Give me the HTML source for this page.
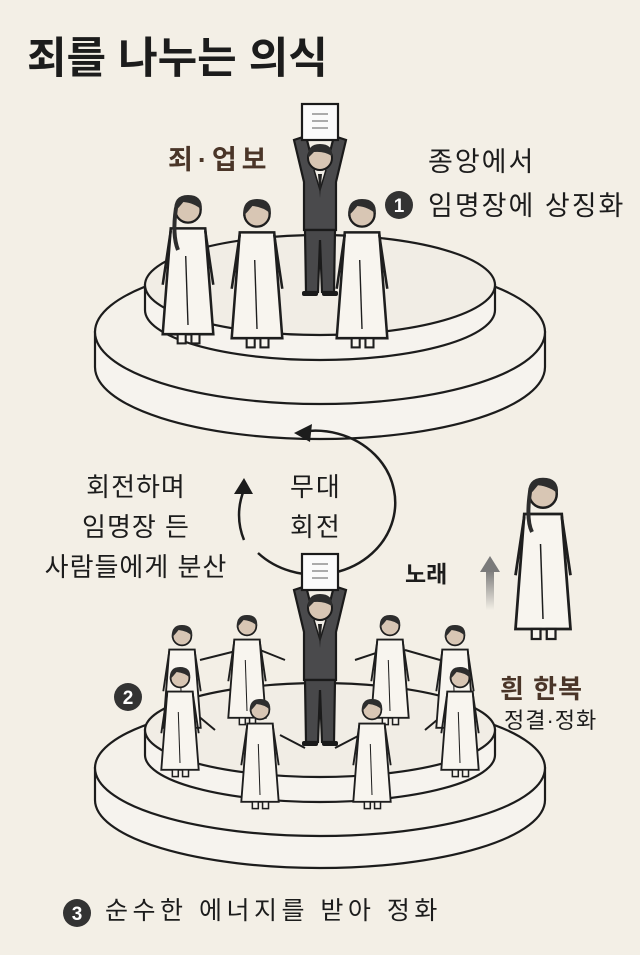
<!DOCTYPE html>
<html><head><meta charset="utf-8"><style>
html,body{margin:0;padding:0;background:#f3efe6;}
body{width:640px;height:955px;position:relative;overflow:hidden;font-family:"Liberation Sans","Noto Sans CJK KR",sans-serif;color:#1c1c1c;}
.t{position:absolute;white-space:nowrap;line-height:1.2;}
svg{position:absolute;left:0;top:0;}
</style></head><body>
<svg width="640" height="955" viewBox="0 0 640 955">
<defs>
<g id="woman">
  <path d="M-15,16 L-22,108 L22,108 L15,16 Z" fill="#f8f5ef" stroke="#1e1e1e" stroke-width="2.2"/>
  <path d="M-15,18 L-22,65 M15,18 L22,65" stroke="#1e1e1e" stroke-width="2.2" fill="none"/>
  <path d="M-2,40 L0,100" stroke="#1e1e1e" stroke-width="1.2"/>
  <circle cx="0" cy="0" r="11" fill="#d8c6b4" stroke="#1e1e1e" stroke-width="2"/>
  <path d="M-12,2 Q-13,-13 0,-13 Q13,-13 12,0 Q6,-6 -4,-7 Q-8,-2 -12,2 Z" fill="#2d2d2d"/>
  <rect x="-9" y="108" width="7" height="8" fill="#f8f5ef" stroke="#1e1e1e" stroke-width="1.8"/>
  <rect x="3" y="108" width="7" height="8" fill="#f8f5ef" stroke="#1e1e1e" stroke-width="1.8"/>
</g>
<g id="man">
  <path d="M-16,2 L-26,-40 L-14,-44 L-6,-12 L6,-12 L14,-44 L26,-40 L16,2 L16,50 L-16,50 Z" fill="#4a4a4c" stroke="#1a1a1a" stroke-width="2.2"/>
  <path d="M-15,50 L-14,112 L-2,112 L0,60 L2,112 L14,112 L15,50 Z" fill="#48484a" stroke="#1a1a1a" stroke-width="2.2"/>
  <path d="M-6,-10 L0,10 L6,-10" fill="#f0ede6" stroke="#1a1a1a" stroke-width="1.5"/>
  <path d="M-2,-6 L0,18 L2,-6 Z" fill="#222"/>
  <circle cx="0" cy="-22" r="12" fill="#d8c6b4" stroke="#1a1a1a" stroke-width="2"/>
  <path d="M-12,-22 Q-13,-36 0,-36 Q13,-36 12,-24 Q4,-29 -6,-28 Z" fill="#2d2d2d"/>
  <rect x="-18" y="-76" width="36" height="36" fill="#fafafa" stroke="#1a1a1a" stroke-width="2.2"/>
  <path d="M-8,-66 H8 M-8,-59 H8 M-8,-52 H8" stroke="#aaa" stroke-width="2"/>
  <rect x="-18" y="111" width="16" height="5" rx="2" fill="#1a1a1a"/>
  <rect x="2" y="111" width="16" height="5" rx="2" fill="#1a1a1a"/>
</g>
</defs>

<path d="M95,332 L95,367 A225,72 0 0 0 545,367 L545,332 Z" fill="#f6f3ee" stroke="#1c1c1c" stroke-width="2.2"/>
<ellipse cx="320" cy="332" rx="225" ry="72" fill="#f4f1ea" stroke="#1c1c1c" stroke-width="2.2"/>
<path d="M145,285 L145,310 A175,50 0 0 0 495,310 L495,285 Z" fill="#f6f3ee" stroke="#1c1c1c" stroke-width="2.2"/>
<ellipse cx="320" cy="285" rx="175" ry="50" fill="#f1ede5" stroke="#1c1c1c" stroke-width="2.2"/>

<g transform="translate(188,210) scale(1.15)"><use href="#woman"/></g>
<path d="M176,208 Q172,235 178,250" stroke="#2d2d2d" stroke-width="4" fill="none"/>
<g transform="translate(257,214) scale(1.15)"><use href="#woman"/></g>
<use href="#man" x="320" y="180"/>
<g transform="translate(362,214) scale(1.15)"><use href="#woman"/></g>

<circle cx="399" cy="205" r="14" fill="#333"/>
<text x="399" y="212" text-anchor="middle" font-size="19" font-weight="bold" fill="#fff" font-family="Liberation Sans">1</text>

<path d="M300,432 A80,72 0 1 1 258,553" fill="none" stroke="#1c1c1c" stroke-width="2.5"/>
<path d="M312,424 L294,433 L310,442 Z" fill="#1c1c1c"/>
<path d="M244,540 A80,72 0 0 1 244,490" fill="none" stroke="#1c1c1c" stroke-width="2.5"/>
<path d="M234,494 L244,478 L253,494 Z" fill="#1c1c1c"/>

<defs><linearGradient id="g" x1="0" y1="1" x2="0" y2="0"><stop offset="0" stop-color="#f3efe6"/><stop offset="1" stop-color="#7a7a7a"/></linearGradient></defs>
<rect x="486" y="570" width="8" height="40" fill="url(#g)"/>
<path d="M480,572 L490,556 L500,572 Z" fill="#7a7a7a"/>

<g transform="translate(543,494) scale(1.25)"><use href="#woman"/></g>
<path d="M530,492 Q526,520 532,532" stroke="#2d2d2d" stroke-width="4" fill="none"/>

<path d="M95,768 L95,800 A225,68 0 0 0 545,800 L545,768 Z" fill="#f6f3ee" stroke="#1c1c1c" stroke-width="2.2"/>
<ellipse cx="320" cy="768" rx="225" ry="68" fill="#f4f1ea" stroke="#1c1c1c" stroke-width="2.2"/>
<path d="M145,730 L145,755 A175,47 0 0 0 495,755 L495,730 Z" fill="#f6f3ee" stroke="#1c1c1c" stroke-width="2.2"/>
<ellipse cx="320" cy="730" rx="175" ry="47" fill="#f1ede5" stroke="#1c1c1c" stroke-width="2.2"/>

<g stroke="#1c1c1c" stroke-width="2" fill="none">
<path d="M200,660 L240,650 M260,650 L285,660 M355,660 L385,650 M405,650 L440,660"/>
<path d="M185,705 L215,730 M280,735 L305,748 M335,748 L360,735 M425,730 L455,705"/>
</g>
<g transform="translate(182,636) scale(0.85)"><use href="#woman"/></g>
<g transform="translate(247,626) scale(0.85)"><use href="#woman"/></g>
<g transform="translate(390,626) scale(0.85)"><use href="#woman"/></g>
<g transform="translate(455,636) scale(0.85)"><use href="#woman"/></g>
<g transform="translate(180,678) scale(0.85)"><use href="#woman"/></g>
<g transform="translate(460,678) scale(0.85)"><use href="#woman"/></g>
<use href="#man" x="320" y="630"/>
<g transform="translate(260,710) scale(0.85)"><use href="#woman"/></g>
<g transform="translate(372,710) scale(0.85)"><use href="#woman"/></g>

<circle cx="128" cy="697" r="14" fill="#333"/>
<text x="128" y="704" text-anchor="middle" font-size="19" font-weight="bold" fill="#fff" font-family="Liberation Sans">2</text>
<circle cx="77" cy="913" r="14" fill="#333"/>
<text x="77" y="920" text-anchor="middle" font-size="19" font-weight="bold" fill="#fff" font-family="Liberation Sans">3</text>
</svg>

<div class="t" style="left:27px;top:34px;font-size:43px;font-weight:bold;">죄를 나누는 의식</div>
<div class="t" style="left:168px;top:144px;font-size:27px;font-weight:bold;letter-spacing:5px;color:#4a3528;">죄·업보</div>
<div class="t" style="left:428px;top:146px;font-size:27px;letter-spacing:2px;">종앙에서</div>
<div class="t" style="left:428px;top:190px;font-size:27px;letter-spacing:2px;">임명장에 상징화</div>
<div class="t" style="left:36px;top:467px;width:200px;text-align:center;font-size:26px;letter-spacing:1px;line-height:40px;">회전하며<br>임명장 든<br>사람들에게 분산</div>
<div class="t" style="left:290px;top:467px;font-size:26px;letter-spacing:2px;line-height:40px;">무대<br>회전</div>
<div class="t" style="left:405px;top:561px;font-size:23px;font-weight:bold;">노래</div>
<div class="t" style="left:500px;top:674px;font-size:26px;font-weight:bold;letter-spacing:1px;color:#4a3528;">흰 한복</div>
<div class="t" style="left:504px;top:708px;font-size:22px;letter-spacing:1px;">정결·정화</div>
<div class="t" style="left:105px;top:896px;font-size:25px;letter-spacing:4.5px;">순수한 에너지를 받아 정화</div>
</body></html>
